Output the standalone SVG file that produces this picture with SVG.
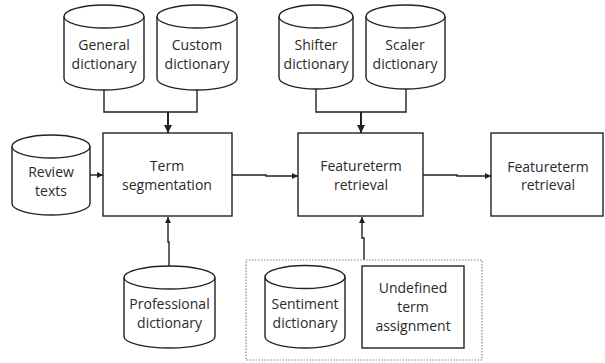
<svg xmlns="http://www.w3.org/2000/svg" width="605" height="363" viewBox="0 0 605 363">
  <defs>
    <marker id="arrow" viewBox="0 0 10 10" refX="10" refY="5" markerWidth="6" markerHeight="6" markerUnits="userSpaceOnUse" orient="auto">
      <path d="M0,0 L10,5 L0,10 Z" fill="#222"/>
    </marker>
    <marker id="arrowBold" viewBox="0 0 10 10" refX="10" refY="5" markerWidth="8" markerHeight="8" markerUnits="userSpaceOnUse" orient="auto">
      <path d="M0,0 L10,5 L0,10 Z" fill="#222"/>
    </marker>
  </defs>
  <style>
    .shape { fill: #fff; stroke: #222; stroke-width: 1.4; }
    .rim { fill: none; stroke: #222; stroke-width: 1.4; }
    .line { fill: none; stroke: #222; stroke-width: 1.4; }
    .bold { fill: none; stroke: #222; stroke-width: 2; }
    .group { fill: none; stroke: #888; stroke-width: 1.2; stroke-dasharray: 1.5 1.5; }
    text { font-family: "Open Sans", "Noto Sans", sans-serif; font-size: 14px; fill: #2a2a2a; text-anchor: middle; }
  </style>
  <rect width="605" height="363" fill="#fff"/>

  <!-- connectors -->
  <g id="connectors">
    <path class="line" d="M104,90 V112 H197 V89"/>
    <path class="bold" d="M168,112 V133" marker-end="url(#arrowBold)"/>
    <path class="line" d="M316,88 V112 H406 V88"/>
    <path class="bold" d="M361,112 V133" marker-end="url(#arrowBold)"/>
    <path class="line" d="M90,175 H103" marker-end="url(#arrow)"/>
    <path class="line" d="M232,175 H266 V176 H298" marker-end="url(#arrow)"/>
    <path class="line" d="M423,175 H457 V176 H491" marker-end="url(#arrow)"/>
    <path class="line" d="M169,266 V242 H168 V217" marker-end="url(#arrow)"/>
    <path class="line" d="M364,260 V238 H362 V217" marker-end="url(#arrow)"/>
  </g>

  <g id="general-dictionary">
    <path class="shape" d="M64,16.5 A40,11.5 0 0 1 144,16.5 V78.5 A40,11.5 0 0 1 64,78.5 Z"/>
    <path class="rim" d="M64,16.5 A40,11.5 0 0 0 144,16.5"/>
    <text x="104" y="50">General</text>
    <text x="104" y="69">dictionary</text>
  </g>

  <g id="custom-dictionary">
    <path class="shape" d="M157,16.5 A40,11.5 0 0 1 237,16.5 V78.5 A40,11.5 0 0 1 157,78.5 Z"/>
    <path class="rim" d="M157,16.5 A40,11.5 0 0 0 237,16.5"/>
    <text x="197" y="50">Custom</text>
    <text x="197" y="69">dictionary</text>
  </g>

  <g id="shifter-dictionary">
    <path class="shape" d="M279,16.5 A37,11.5 0 0 1 353,16.5 V77.5 A37,11.5 0 0 1 279,77.5 Z"/>
    <path class="rim" d="M279,16.5 A37,11.5 0 0 0 353,16.5"/>
    <text x="316" y="50">Shifter</text>
    <text x="316" y="69">dictionary</text>
  </g>

  <g id="scaler-dictionary">
    <path class="shape" d="M366,16.5 A39.5,11.5 0 0 1 445,16.5 V77.5 A39.5,11.5 0 0 1 366,77.5 Z"/>
    <path class="rim" d="M366,16.5 A39.5,11.5 0 0 0 445,16.5"/>
    <text x="405" y="50">Scaler</text>
    <text x="405" y="69">dictionary</text>
  </g>

  <g id="review-texts">
    <path class="shape" d="M12,146.5 A39,11.5 0 0 1 90,146.5 V203.5 A39,11.5 0 0 1 12,203.5 Z"/>
    <path class="rim" d="M12,146.5 A39,11.5 0 0 0 90,146.5"/>
    <text x="51" y="177">Review</text>
    <text x="51" y="196">texts</text>
  </g>

  <g id="term-segmentation">
    <rect class="shape" x="103" y="133" width="129" height="83"/>
    <text x="167" y="171">Term</text>
    <text x="167" y="190">segmentation</text>
  </g>

  <g id="feature-term-retrieval">
    <rect class="shape" x="298" y="133" width="125" height="83"/>
    <text x="361" y="171">Featureterm</text>
    <text x="361" y="190">retrieval</text>
  </g>

  <g id="feature-term-retrieval-2">
    <rect class="shape" x="491" y="133" width="112" height="83"/>
    <text x="548" y="172">Featureterm</text>
    <text x="548" y="190">retrieval</text>
  </g>

  <g id="professional-dictionary">
    <path class="shape" d="M124,277.5 A45.5,11.5 0 0 1 215,277.5 V336.5 A45.5,11.5 0 0 1 124,336.5 Z"/>
    <path class="rim" d="M124,277.5 A45.5,11.5 0 0 0 215,277.5"/>
    <text x="169.5" y="309">Professional</text>
    <text x="169.5" y="328">dictionary</text>
  </g>

  <g id="sentiment-group">
    <rect class="group" x="246" y="260" width="236" height="100"/>
  </g>

  <g id="sentiment-dictionary">
    <path class="shape" d="M265,277 A40,11.5 0 0 1 345,277 V336.5 A40,11.5 0 0 1 265,336.5 Z"/>
    <path class="rim" d="M265,277 A40,11.5 0 0 0 345,277"/>
    <text x="305" y="309">Sentiment</text>
    <text x="305" y="328">dictionary</text>
  </g>

  <g id="undefined-term-assignment">
    <rect class="shape" x="362" y="266" width="102" height="82"/>
    <text x="413" y="293">Undefined</text>
    <text x="413" y="312">term</text>
    <text x="413" y="331">assignment</text>
  </g>
</svg>
